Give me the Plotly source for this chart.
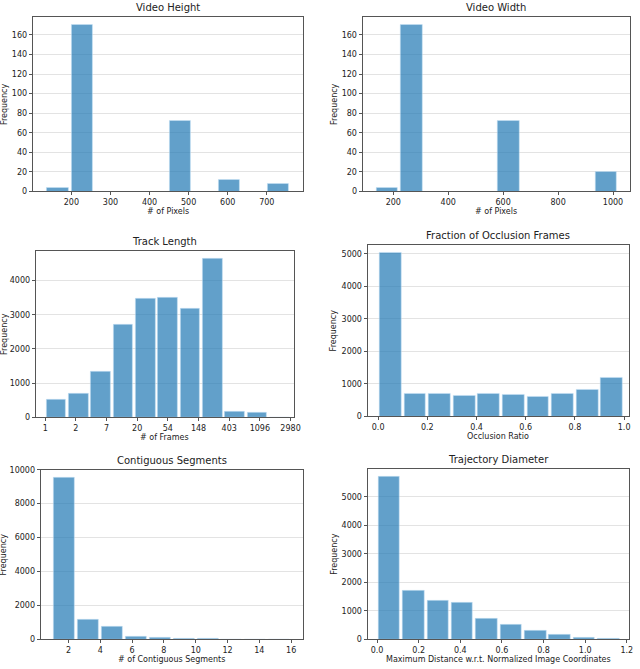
import numpy as np
import plotly.graph_objects as go

# histogram counts
height_edges = [134, 760]
height_counts = [4, 170, 0, 0, 0, 72, 0, 12, 0, 8]

width_edges = [134, 1018]
width_counts = [4, 170, 0, 0, 0, 72, 0, 0, 0, 20]

# track length is binned on log(frames)
track_log_edges = [0, 8]
track_counts = [520, 690, 1350, 2700, 3480, 3490, 3190, 4640, 180, 140, 5]
track_tick_labels = ["1", "2", "7", "20", "54", "148", "403", "1096", "2980"]

occl_edges = [0.0, 1.0]
occl_counts = [5030, 710, 710, 640, 690, 680, 610, 710, 810, 1200]

seg_edges = [1, 16]
seg_counts = [9530, 1190, 750, 150, 90, 40, 30, 10, 5, 3]

diam_edges = [0.0, 1.17]
diam_counts = [5705, 1720, 1350, 1270, 740, 510, 300, 155, 55, 22]

BAR = "rgba(31,119,180,0.7)"
FONT = "DejaVu Sans"
W, H = 640, 669

# (title, xlabel, edges, counts, x range, y range, box px [left, right, top, bottom], ytick step)
panels = [
    ("Video Height", "# of Pixels", height_edges, height_counts, [101, 793], [0, 178.5], [33, 306, 13, 190], 20),
    ("Video Width", "# of Pixels", width_edges, width_counts, [88, 1062], [0, 178.5], [366, 636, 13, 190], 20),
    ("Track Length", "# of Frames", track_log_edges, track_counts, [-0.31, 8.12], [0, 4872], [36, 297, 250, 419], 1000),
    ("Fraction of Occlusion Frames", "Occlusion Ratio", occl_edges, occl_counts, [-0.043, 1.02], [0, 5282], [371, 635, 244, 418], 1000),
    ("Contiguous Segments", "# of Contiguous Segments", seg_edges, seg_counts, [0.25, 16.75], [0, 10007], [41, 306, 472, 644], 2000),
    ("Trajectory Diameter", "Maximum Distance w.r.t. Normalized Image Coordinates", diam_edges, diam_counts, [-0.046, 1.211], [0, 5990], [371, 635, 471, 644], 1000),
]

fig = go.Figure()
annotations = []

for i, (title, xlabel, edges, counts, xr, yr, box, ystep) in enumerate(panels):
    n = len(counts)
    bins = np.linspace(edges[0], edges[1], n + 1)
    centers = (bins[:-1] + bins[1:]) / 2
    bw = bins[1] - bins[0]
    ax = "" if i == 0 else str(i + 1)

    fig.add_trace(go.Bar(
        x=centers, y=counts, width=bw * 0.88,
        marker=dict(color=BAR, line=dict(color="rgba(200,225,245,0.9)", width=0.6)),
        xaxis="x" + ax, yaxis="y" + ax, showlegend=False,
    ))

    l, r, t, b = box
    xdom = [l / W, r / W]
    ydom = [1 - b / H, 1 - t / H]

    xaxis = dict(
        domain=xdom, range=xr, anchor="y" + ax,
        showline=True, linecolor="#555555", linewidth=1, mirror=True,
        ticks="outside", ticklen=3, tickcolor="#555555",
        showgrid=False, zeroline=False,
        tickfont=dict(family=FONT, size=8, color="#222222"),
    )
    if title == "Track Length":
        xaxis.update(tickmode="array", tickvals=list(range(len(track_tick_labels))),
                     ticktext=track_tick_labels)
    elif title in ("Fraction of Occlusion Frames", "Trajectory Diameter"):
        xaxis.update(dtick=0.2, tickformat=".1f")
    elif title == "Contiguous Segments":
        xaxis.update(tick0=2, dtick=2)
    elif title == "Video Width":
        xaxis.update(tick0=200, dtick=200)
    else:
        xaxis.update(tick0=200, dtick=100)

    yaxis = dict(
        domain=ydom, range=yr, anchor="x" + ax,
        showline=True, linecolor="#555555", linewidth=1, mirror=True,
        ticks="outside", ticklen=3, tickcolor="#555555",
        showgrid=True, gridcolor="#e3e3e3", gridwidth=1, zeroline=False,
        dtick=ystep, tick0=0, tickformat="d",
        tickfont=dict(family=FONT, size=8, color="#222222"),
    )
    fig.update_layout(**{"xaxis" + ax: xaxis, "yaxis" + ax: yaxis})

    cx = (l + r) / 2 / W
    annotations.append(dict(text=title, x=cx, y=1 - (t - 2) / H, xref="paper", yref="paper",
                            xanchor="center", yanchor="bottom", showarrow=False,
                            font=dict(family=FONT, size=10, color="#222222")))
    annotations.append(dict(text=xlabel, x=cx, y=1 - (b + 14) / H, xref="paper", yref="paper",
                            xanchor="center", yanchor="top", showarrow=False,
                            font=dict(family=FONT, size=8, color="#222222")))
    ylab_x = 4 if l < 320 else 337
    annotations.append(dict(text="Frequency", x=ylab_x / W, y=(ydom[0] + ydom[1]) / 2,
                            xref="paper", yref="paper", xanchor="center", yanchor="middle",
                            textangle=-90, showarrow=False,
                            font=dict(family=FONT, size=8, color="#222222")))

fig.update_layout(
    width=W, height=H,
    margin=dict(l=0, r=0, t=0, b=0),
    paper_bgcolor="white", plot_bgcolor="white",
    bargap=0,
    annotations=annotations,
)

# the page body has a default 8px margin; drop it so the figure fills the window
fig.write_html("out.html", config={"displayModeBar": False},
               post_script="document.body.style.margin='0';")
